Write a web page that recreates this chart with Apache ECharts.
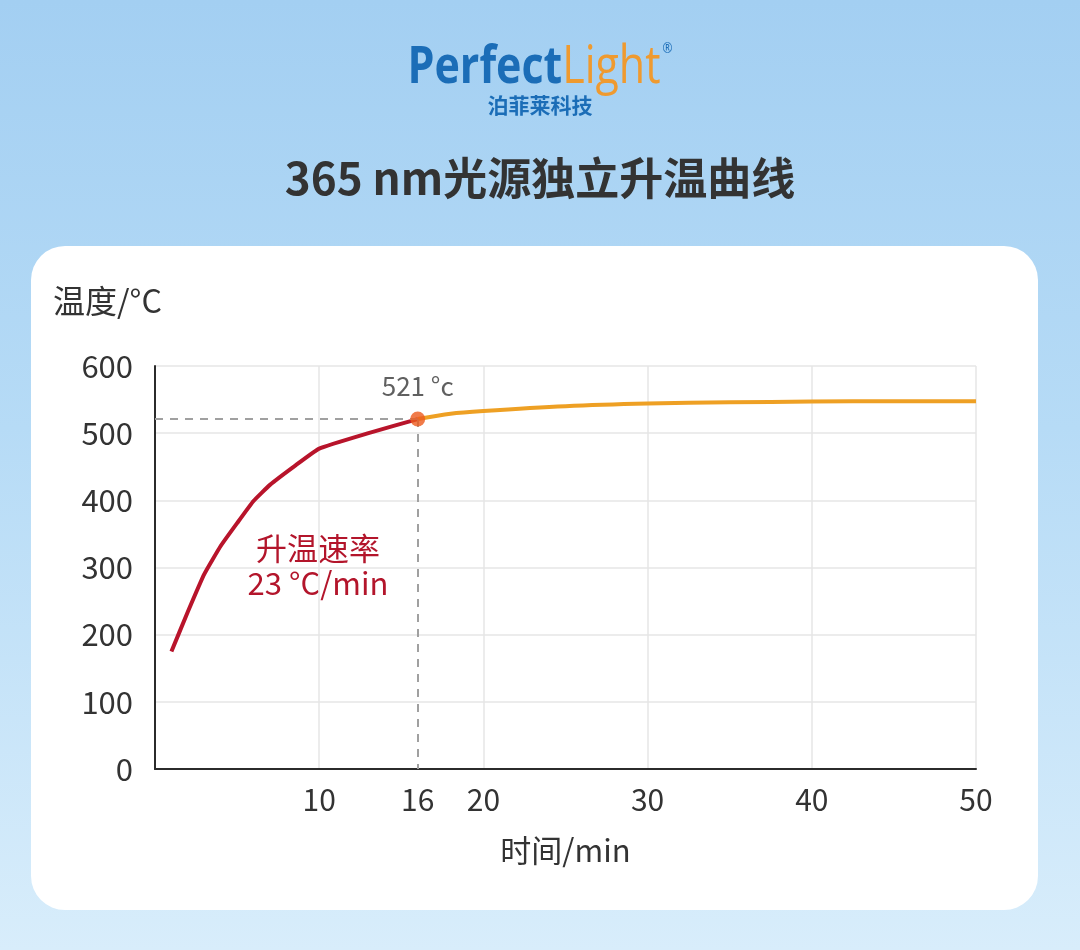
<!DOCTYPE html>
<html>
<head>
<meta charset="utf-8">
<script src="https://cdn.jsdelivr.net/npm/echarts@6/dist/echarts.min.js"></script>
<style>
html,body{margin:0;padding:0;width:1080px;height:950px;overflow:hidden;}
body{background:linear-gradient(180deg,#a3cff2 0%,#b6dbf6 45%,#d8edfb 100%);}
#card{position:absolute;left:31px;top:246px;width:1007px;height:664px;background:#fff;border-radius:34px;}
#chart{position:absolute;left:0;top:0;width:1080px;height:950px;}
</style>
</head>
<body>
<div id="card"></div>
<div id="chart"></div>
<script>
// ---- data ----
const xTickLabels = [10, 16, 20, 30, 40, 50];
const heatingPhase = [[1,175],[2,234],[3,290],[4,332],[5,366],[6,399],[7,423],[8.5,451],[10,477],[13,500],[16,521]];
const plateauPhase = [[16,521],[18,529],[20,533],[25,540],[30,544],[35,546],[40,547],[45,547.5],[50,547.5]];
const keyPoint = [[16,521]];
const keyLabel = '521 °c';
const rateText = ['升温速率', '23 °C/min'];
const chartTitle = '365 nm光源独立升温曲线';
const yName = '温度/°C';
const xName = '时间/min';

const FONT = '"Noto Sans CJK SC","Noto Sans",sans-serif';
const chart = echarts.init(document.getElementById('chart'), null, {renderer:'canvas'});

chart.setOption({
  backgroundColor: 'transparent',
  animation: false,
  textStyle: {fontFamily: FONT},
  graphic: [
    {
      type: 'text', left: 'center', top: 42, scaleY: 1.22,
      style: {
        text: '{p|Perfect}{l|Light}{r|®}',
        rich: {
          p: {fontFamily: '"Open Sans",sans-serif', fontWeight: 'bold', fontSize: 43, fill: '#1b6db7'},
          l: {fontFamily: '"Open Sans",sans-serif', fontWeight: 'normal', fontSize: 43, fill: '#ef9a2f'},
          r: {fontFamily: '"Open Sans",sans-serif', fontSize: 12, fill: '#1b6db7', verticalAlign: 'top', padding: [0,0,26,2]}
        }
      }
    },
    {
      type: 'text', left: 'center', top: 95,
      style: {text: '泊菲莱科技', fontFamily: FONT, fontWeight: 'bold', fontSize: 21, fill: '#1b6db7'}
    },
    {
      type: 'text', left: 'center', top: 156,
      style: {text: chartTitle, fontFamily: FONT, fontWeight: 'bold', fontSize: 44, fill: '#333333'}
    },
    {
      type: 'text', left: 53, top: 285,
      style: {text: yName, fontFamily: FONT, fontSize: 32, fill: '#333333'}
    },
    {
      type: 'text', x: 318, y: 566,
      style: {text: rateText.join('\n'), fontFamily: FONT, fontSize: 31, lineHeight: 35, fill: '#b3152b', align: 'center', verticalAlign: 'middle'}
    }
  ],
  grid: {left: 155, right: 104, top: 366, bottom: 181, containLabel: false},
  xAxis: {
    type: 'value', min: 0, max: 50, interval: 10,
    name: xName, nameLocation: 'middle', nameGap: 66,
    nameTextStyle: {fontFamily: FONT, fontSize: 31, color: '#333333'},
    axisLine: {show: true, lineStyle: {color: '#2b2b2b', width: 2}},
    axisTick: {show: false},
    axisLabel: {customValues: xTickLabels, fontFamily: FONT, fontSize: 30, color: '#333333', margin: 16},
    splitLine: {show: true, lineStyle: {color: '#e6e6e6', width: 1.5}}
  },
  yAxis: {
    type: 'value', min: 0, max: 600, interval: 100,
    axisLine: {show: true, lineStyle: {color: '#2b2b2b', width: 2}},
    axisTick: {show: false},
    axisLabel: {fontFamily: FONT, fontSize: 31, color: '#333333', margin: 22},
    splitLine: {show: true, lineStyle: {color: '#e6e6e6', width: 1.5}}
  },
  series: [
    {
      type: 'line', data: plateauPhase, smooth: 0.3, symbol: 'none', z: 3,
      lineStyle: {color: '#eea024', width: 4}
    },
    {
      type: 'line', data: heatingPhase, smooth: 0.12, symbol: 'none', z: 4,
      lineStyle: {color: '#b8142b', width: 4}
    },
    {
      type: 'scatter', data: keyPoint, symbol: 'circle', symbolSize: 15, z: 6,
      itemStyle: {color: '#ec5a1d'},
      label: {show: true, position: 'top', distance: 12, formatter: keyLabel, fontFamily: FONT, fontSize: 26, color: '#383838'},
      markLine: {
        silent: true, symbol: 'none', animation: false,
        label: {show: false},
        lineStyle: {type: [8, 7], color: '#a0a0a0', width: 2},
        data: [
          [{coord: [0, keyPoint[0][1]]}, {coord: [keyPoint[0][0], keyPoint[0][1]]}],
          [{coord: [keyPoint[0][0], keyPoint[0][1]]}, {coord: [keyPoint[0][0], 0]}]
        ]
      }
    }
  ]
});
</script>
</body>
</html>
